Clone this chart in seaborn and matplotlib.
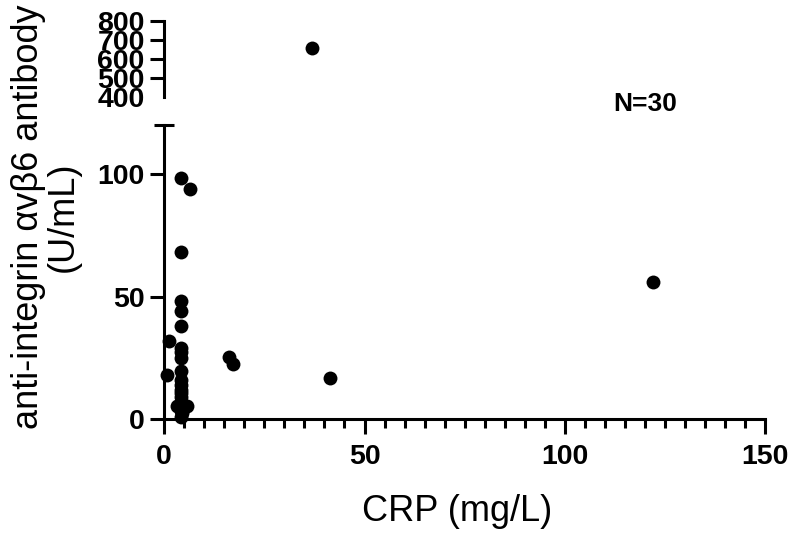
import numpy as np
import pandas as pd
import seaborn as sb
from matplotlib import pyplot as plt
from matplotlib.ticker import MultipleLocator, FixedLocator

# values
crp = [37, 122, 4.3, 6.5, 4.3, 4.3, 4.3, 4.3, 1.2, 4.3, 4.3, 16.1, 17.3, 0.8, 4.3,
       4.3, 4.3, 4.3, 41.3, 3.2, 5.7, 4.4, 4.3, 4.3, 4.3, 4.3, 4.3, 4.0, 4.6, 4.3]
antibody = [655, 56, 98.5, 94, 68, 48, 44, 38, 32, 27.5, 25, 25.5, 22.5, 18, 19.5,
            16, 12, 9, 17, 5.5, 5.5, 2.5, 14, 10.5, 7, 3.5, 1, 6, 4, 29]
upper_ticks = [400, 500, 600, 700, 800]
lower_ticks = [0, 50, 100]
x_ticks = [0, 50, 100, 150]

df = pd.DataFrame({"CRP": crp, "Ab": antibody})

sb.set_style("white")
plt.rcParams['font.family'] = ['Liberation Sans', 'DejaVu Sans']
plt.rcParams['text.color'] = 'black'
plt.rcParams['xtick.color'] = 'black'
plt.rcParams['ytick.color'] = 'black'
plt.rcParams['axes.labelcolor'] = 'black'
plt.rcParams['axes.edgecolor'] = 'black'

fig = plt.figure(figsize=(7.93, 5.34), dpi=100)
ax_lo = fig.add_axes([0.207, 0.215, 0.758, 0.551])
ax_hi = fig.add_axes([0.207, 0.819, 0.758, 0.142])

lw = 2.2
tick_fs = 20.5
for ax, part in [(ax_lo, df[df.Ab < 120]), (ax_hi, df[df.Ab >= 400])]:
    sb.scatterplot(data=part, x="CRP", y="Ab", ax=ax, color="black", s=100,
                   edgecolor="black", linewidth=0, clip_on=False, zorder=5, legend=False)
    ax.set_xlim(0, 150)
    ax.set_facecolor("none")
    for side in ["top", "right"]:
        ax.spines[side].set_visible(False)
    ax.spines["left"].set_linewidth(lw)
    ax.spines["bottom"].set_linewidth(lw)
    ax.set_xlabel("")
    ax.set_ylabel("")
    ax.tick_params(axis="both", which="both", width=lw, color="black")
    ax.tick_params(axis="y", which="major", direction="out", length=10, pad=4,
                   left=True)

# lower part
ax_lo.set_ylim(0, 120)
ax_lo.set_yticks(lower_ticks, [str(v) for v in lower_ticks], fontweight="bold", fontsize=tick_fs)
ax_lo.set_xticks(x_ticks, [str(v) for v in x_ticks], fontweight="bold", fontsize=tick_fs)
ax_lo.yaxis.set_minor_locator(FixedLocator([120]))
ax_lo.tick_params(axis="y", which="minor", direction="inout", length=14, left=True)
ax_lo.xaxis.set_minor_locator(MultipleLocator(5))
ax_lo.tick_params(axis="x", which="major", direction="out", length=11, pad=7, bottom=True)
ax_lo.tick_params(axis="x", which="minor", direction="out", length=6.5, bottom=True)
ax_lo.set_xlabel("CRP (mg/L)", fontsize=26)
ax_lo.xaxis.set_label_coords(0.488, -0.255)

# upper part
ax_hi.set_ylim(400, 800)
ax_hi.spines["bottom"].set_visible(False)
ax_hi.set_xticks([])
ax_hi.set_yticks(upper_ticks, [str(v) for v in upper_ticks], fontweight="bold", fontsize=tick_fs)
ax_hi.yaxis.set_minor_locator(FixedLocator([400]))
ax_hi.tick_params(axis="y", which="minor", direction="inout", length=14, left=True)
ax_hi.yaxis.get_major_ticks()[0].tick1line.set_visible(False)

ax_lo.text(120, 128.5, "N=30", fontsize=19, fontweight="bold", ha="center", va="center",
           clip_on=False)

fig.text(0.058, 0.594, "anti-integrin \u03b1v\u03b26 antibody\n(U/mL)", rotation=90,
         fontsize=26, ha="center", va="center", multialignment="center", linespacing=1.0)

plt.savefig("out.png", dpi=100)
